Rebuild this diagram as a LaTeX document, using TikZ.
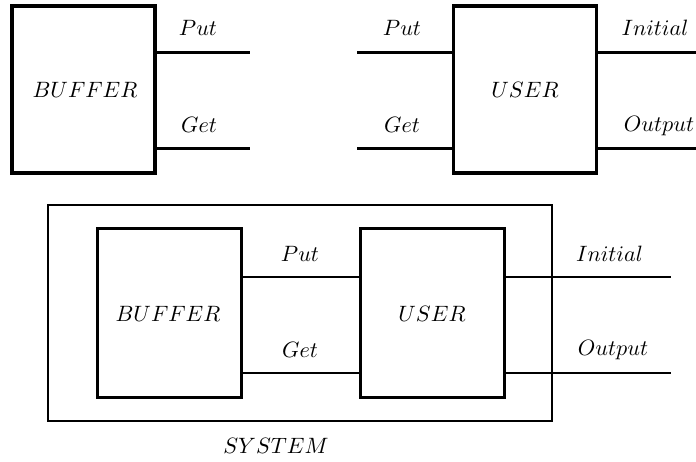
\documentclass[tikz,border=0pt]{standalone}
\newcommand{\lt}[1]{\scalebox{2.22}{$#1$}}
\begin{document}
\begin{tikzpicture}[x=1pt,y=-1pt,
  lbl/.style={anchor=base,inner sep=0pt},
  boxA/.style={draw,line width=3.5pt,minimum width=143pt,minimum height=167pt,inner sep=0pt},
  boxB/.style={draw,line width=3pt,minimum width=144pt,minimum height=168pt,inner sep=0pt},
  wireA/.style={line width=3pt},
  wireB/.style={line width=2.5pt},
  sysbox/.style={draw,line width=2.5pt,minimum width=504pt,minimum height=216pt,inner sep=0pt}]
\useasboundingbox (0,0) rectangle (696,462);
% top left: BUFFER
\node[boxA] (buf1) at (83.5,89.5) {};
\node[lbl] (buf1t) at (85,98) {\lt{BUFFER}};
\coordinate (b1p) at (250,53);
\coordinate (b1g) at (250,149);
\draw[wireA] (buf1.east |- b1p) -- (b1p);
\draw[wireA] (buf1.east |- b1g) -- (b1g);
\node[lbl] (b1pl) at (198,36) {\lt{Put}};
\node[lbl] (b1gl) at (199,133) {\lt{Get}};
% top right: USER
\node[boxA] (usr1) at (525,89.5) {};
\node[lbl] (usr1t) at (525,98) {\lt{USER}};
\coordinate (u1p) at (357,53);
\coordinate (u1g) at (357,149);
\coordinate (u1i) at (696,53);
\coordinate (u1o) at (696,149);
\draw[wireA] (u1p) -- (usr1.west |- u1p);
\draw[wireA] (u1g) -- (usr1.west |- u1g);
\draw[wireA] (usr1.east |- u1i) -- (u1i);
\draw[wireA] (usr1.east |- u1o) -- (u1o);
\node[lbl] (u1pl) at (402,36) {\lt{Put}};
\node[lbl] (u1gl) at (402,133) {\lt{Get}};
\node[lbl] (u1il) at (655,36) {\lt{Initial}};
\node[lbl] (u1ol) at (659,132) {\lt{Output}};
% bottom: SYSTEM
\node[sysbox] (sys) at (300,313) {};
\node[boxB] (buf2) at (169,313) {};
\node[lbl] (buf2t) at (168,321) {\lt{BUFFER}};
\node[boxB] (usr2) at (432,313) {};
\node[lbl] (usr2t) at (432,321) {\lt{USER}};
\coordinate (s2p) at (0,277);
\coordinate (s2g) at (0,373);
\draw[wireB] (buf2.east |- s2p) -- (usr2.west |- s2p);
\draw[wireB] (buf2.east |- s2g) -- (usr2.west |- s2g);
\coordinate (s2i) at (671,277);
\coordinate (s2o) at (671,373);
\draw[wireB] (usr2.east |- s2i) -- (s2i);
\draw[wireB] (usr2.east |- s2o) -- (s2o);
\node[lbl] (s2pl) at (300,262) {\lt{Put}};
\node[lbl] (s2gl) at (300,357) {\lt{Get}};
\node[lbl] (s2il) at (609.5,262) {\lt{Initial}};
\node[lbl] (s2ol) at (613,355) {\lt{Output}};
\node[lbl] (syst) at (276,453) {\lt{SYSTEM}};
\end{tikzpicture}
\end{document}
